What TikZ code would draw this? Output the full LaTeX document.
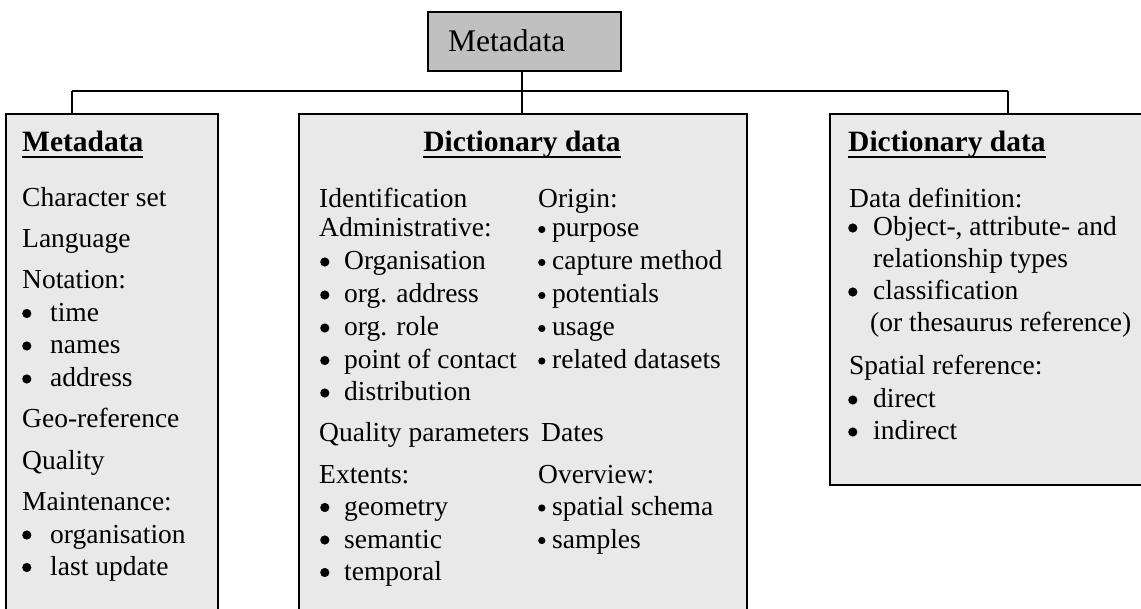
\documentclass[tikz,border=0pt]{standalone}
\usepackage{fontspec}
\setmainfont{Liberation Serif}
\definecolor{boxfill}{RGB}{233,233,233}
\definecolor{topfill}{RGB}{192,192,192}
\newcommand\bodyfont{\fontsize{27.5}{33}\selectfont}
\newcommand\titlefont{\fontsize{29.5}{35}\selectfont\bfseries}
\newcommand\topfont{\fontsize{31.5}{37}\selectfont}
\newcommand\myul[1]{\setbox0\hbox{#1}\rlap{\usebox0}\rule[-6.2pt]{\wd0}{2.4pt}}
\newcommand\bigdot{\tikz[baseline=0pt]\fill[black] (4.8pt,8pt) circle (4.6pt);}
\newcommand\smalldot{\tikz[baseline=0pt]\fill[black] (3.8pt,7.5pt) circle (3.6pt);}
\newcommand\bitem[2]{\makebox[#1][l]{\bigdot}#2}
\newcommand\sitem[2]{\makebox[#1][l]{\smalldot}#2}
\tikzset{
  panel/.style={draw=black, line width=2pt, fill=boxfill, anchor=north west, inner sep=0pt},
  topbox/.style={draw=black, line width=2.2pt, fill=topfill, anchor=north west, inner sep=0pt},
  link/.style={draw=black, line width=1.8pt},
  txt/.style={anchor=base west, inner sep=0pt, font=\bodyfont},
  ttl/.style={anchor=base west, inner sep=0pt, font=\titlefont},
}
\begin{document}
\begin{tikzpicture}[x=1pt,y=-1pt]
\useasboundingbox (0,0) rectangle (1141,609);
\clip (0,0) rectangle (1141,609);
\fill[white] (0,0) rectangle (1141,609);
% boxes
\node[topbox, minimum width=193pt, minimum height=59pt] (top) at (427,11) {};
\node[panel, minimum width=212pt, minimum height=540pt] (lft) at (5,113) {};
\node[panel, minimum width=448pt, minimum height=540pt] (mid) at (298,113) {};
\node[panel, minimum width=360pt, minimum height=371pt] (rgt) at (829,113) {};
% connectors
\coordinate (jl) at (72,91);
\coordinate (jr) at (1008,91);
\draw[link] (jl) -- (jr);
\draw[link] (jl) -- (jl |- lft.north);
\draw[link] (jr) -- (jr |- rgt.north);
\draw[link] (top.south -| 522,0) -- (mid.north -| 522,0);
% top label
\node[anchor=base west, inner sep=0pt, font=\topfont] (toplbl) at (448,51.7) {Metadata};
% left box
\node[ttl] (l0) at (22,152) {\myul{Metadata}};
\node[txt] (l1) at (22,207) {Character set};
\node[txt] (l2) at (22,248) {Language};
\node[txt] (l3) at (22,289) {Notation:};
\node[txt] (l4) at (22,321.5) {\bitem{28pt}{time}};
\node[txt] (l5) at (22,354) {\bitem{28pt}{names}};
\node[txt] (l6) at (22,387) {\bitem{28pt}{address}};
\node[txt] (l7) at (22,428) {Geo-reference};
\node[txt] (l8) at (22,469) {Quality};
\node[txt] (l9) at (22,510) {Maintenance:};
\node[txt] (l10) at (22,543) {\bitem{28pt}{organisation}};
\node[txt] (l11) at (22,575.5) {\bitem{28pt}{last update}};
% middle box
\node[anchor=base, inner sep=0pt, font=\titlefont] (m0) at (522,152) {\myul{Dictionary data}};
\node[txt] (m1) at (319,208) {Identification};
\node[txt] (m2) at (319,237) {Administrative:};
\node[txt] (m3) at (320,270) {\bitem{24pt}{Organisation}};
\node[txt] (m4) at (320,303) {\bitem{24pt}{org. address}};
\node[txt] (m5) at (320,336) {\bitem{24pt}{org. role}};
\node[txt] (m6) at (320,368.5) {\bitem{24pt}{point of contact}};
\node[txt] (m7) at (320,401) {\bitem{24pt}{distribution}};
\node[txt] (m8) at (319,442) {Quality parameters};
\node[txt] (m9) at (319,483) {Extents:};
\node[txt] (m10) at (320,515.5) {\bitem{24pt}{geometry}};
\node[txt] (m11) at (320,548) {\bitem{24pt}{semantic}};
\node[txt] (m12) at (320,580.5) {\bitem{24pt}{temporal}};
\node[txt] (n1) at (538,208) {Origin:};
\node[txt] (n2) at (538,237) {\sitem{14pt}{purpose}};
\node[txt] (n3) at (538,270) {\sitem{14pt}{capture method}};
\node[txt] (n4) at (538,303) {\sitem{14pt}{potentials}};
\node[txt] (n5) at (538,336) {\sitem{14pt}{usage}};
\node[txt] (n6) at (538,368.5) {\sitem{14pt}{related datasets}};
\node[txt] (n7) at (541,442) {Dates};
\node[txt] (n8) at (538,483) {Overview:};
\node[txt] (n9) at (538,515.5) {\sitem{14pt}{spatial schema}};
\node[txt] (n10) at (538,548) {\sitem{14pt}{samples}};
% right box
\node[ttl] (r0) at (848,152) {\myul{Dictionary data}};
\node[txt] (r1) at (849,208) {Data definition:};
\node[txt] (r2) at (848,236) {\bitem{25pt}{Object-, attribute- and}};
\node[txt] (r3) at (873,268) {relationship types};
\node[txt] (r4) at (848,300) {\bitem{25pt}{classification}};
\node[txt] (r5) at (870,332) {(or thesaurus reference)};
\node[txt] (r6) at (849,375) {Spatial reference:};
\node[txt] (r7) at (848,408) {\bitem{25pt}{direct}};
\node[txt] (r8) at (848,440) {\bitem{25pt}{indirect}};
\end{tikzpicture}
\end{document}
